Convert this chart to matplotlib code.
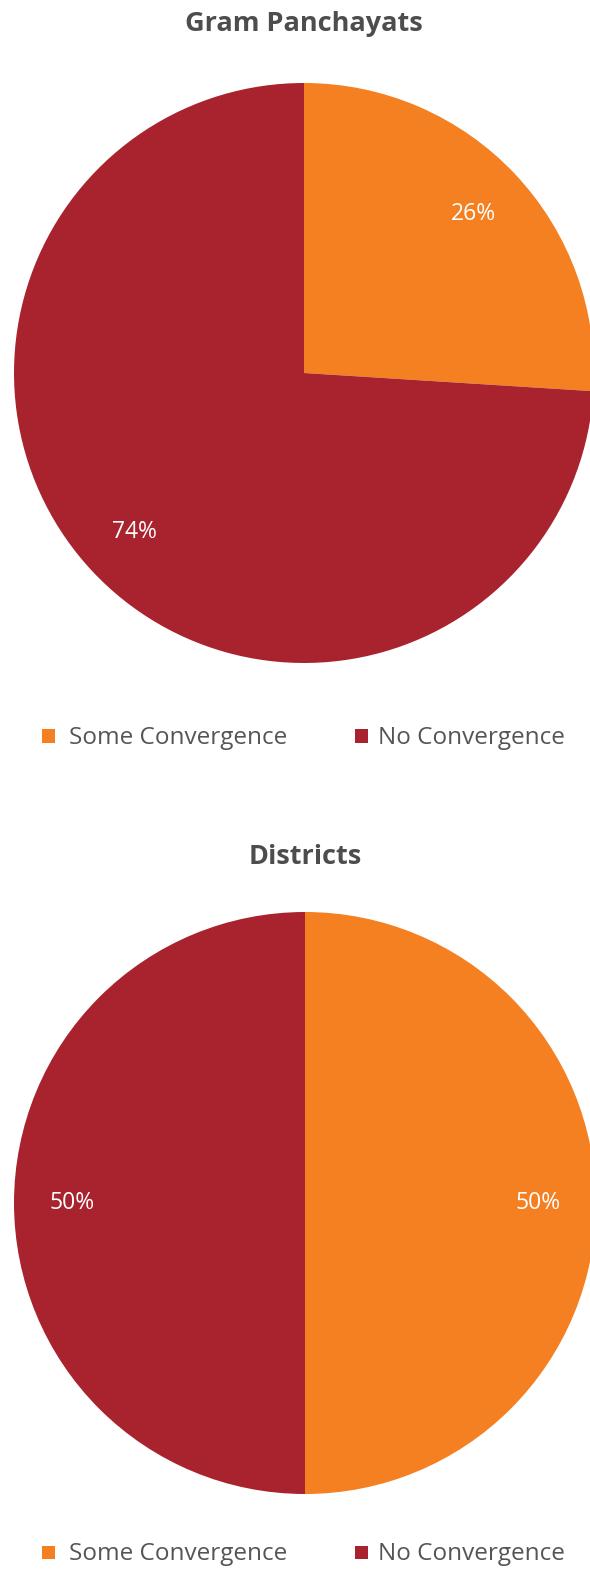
import matplotlib
matplotlib.use("Agg")
import matplotlib.pyplot as plt
from matplotlib.patches import Rectangle

plt.rcParams['font.family'] = ['Open Sans', 'DejaVu Sans']

categories = ["Some Convergence", "No Convergence"]
colors = ["#F58021", "#A9232F"]
titles = ["Gram Panchayats", "Districts"]
gp_values = [26, 74]
district_values = [50, 50]

W, H = 590, 1569
fig = plt.figure(figsize=(W / 100, H / 100), dpi=100)

def px_axes(cx, cy, r):
    # axes spanning the pie's bounding square, given in pixel coords from top-left
    return fig.add_axes([(cx - r) / W, 1 - (cy + r) / H, 2 * r / W, 2 * r / H])

def draw_pie(values, title, cx, cy, r, title_y, legend_y):
    ax = px_axes(cx, cy, r)
    ax.pie(values, colors=colors, startangle=90, counterclock=False,
           autopct=lambda p: f"{p:.0f}%", pctdistance=0.8, radius=1,
           textprops=dict(color="white", fontsize=16.5),
           wedgeprops=dict(linewidth=0))
    ax.set_xlim(-1, 1)
    ax.set_ylim(-1, 1)
    ax.set_aspect('equal')
    ax.axis('off')
    fig.text(cx / W, 1 - title_y / H, title, ha='center', va='center',
             fontsize=19.5, fontweight='bold', color='#4D4D4D')
    # legend
    entries = [(42, 69), (355, 378)]
    for (sx, tx), c, lab in zip(entries, colors, categories):
        fig.patches.append(Rectangle((sx / W, 1 - (legend_y + 6.5) / H), 13 / W, 13 / H,
                                     transform=fig.transFigure, facecolor=c,
                                     edgecolor='none'))
        fig.text(tx / W, 1 - (legend_y + 2) / H, lab, ha='left', va='center',
                 fontsize=17.5, color='#555555')

draw_pie(gp_values, titles[0], 304, 373, 290, 24, 736)
draw_pie(district_values, titles[1], 305, 1203, 291, 857, 1552)

fig.savefig("out.png", dpi=100)
